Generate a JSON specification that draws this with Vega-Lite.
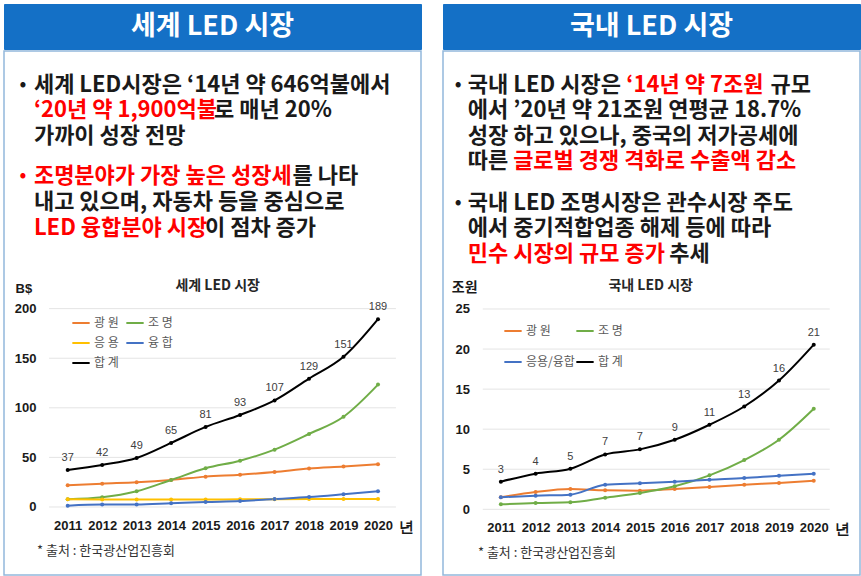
{
  "$schema": "https://vega.github.io/schema/vega-lite/v6.json",
  "padding": {"left": 3, "top": 3, "right": 0, "bottom": 0},
  "background": "white",
  "config": {"view": {"stroke": null}, "font": "Noto Sans CJK KR"},
  "resolve": {"scale": {"color": "independent"}, "legend": {"color": "independent"}},
  "datasets": {
    "world": [
      {"year": 2011, "s": "광 원", "v": 21.8}, {"year": 2012, "s": "광 원", "v": 23.5}, {"year": 2013, "s": "광 원", "v": 24.9}, {"year": 2014, "s": "광 원", "v": 27.2}, {"year": 2015, "s": "광 원", "v": 30.6},
      {"year": 2016, "s": "광 원", "v": 32.6}, {"year": 2017, "s": "광 원", "v": 35.3}, {"year": 2018, "s": "광 원", "v": 38.7}, {"year": 2019, "s": "광 원", "v": 40.7}, {"year": 2020, "s": "광 원", "v": 43.0},
      {"year": 2011, "s": "조 명", "v": 7.7}, {"year": 2012, "s": "조 명", "v": 9.7}, {"year": 2013, "s": "조 명", "v": 15.8}, {"year": 2014, "s": "조 명", "v": 27.2}, {"year": 2015, "s": "조 명", "v": 39.0},
      {"year": 2016, "s": "조 명", "v": 46.7}, {"year": 2017, "s": "조 명", "v": 57.8}, {"year": 2018, "s": "조 명", "v": 73.6}, {"year": 2019, "s": "조 명", "v": 91.0}, {"year": 2020, "s": "조 명", "v": 123.4},
      {"year": 2011, "s": "응 용", "v": 7.7}, {"year": 2012, "s": "응 용", "v": 7.6}, {"year": 2013, "s": "응 용", "v": 7.6}, {"year": 2014, "s": "응 용", "v": 7.6}, {"year": 2015, "s": "응 용", "v": 7.6},
      {"year": 2016, "s": "응 용", "v": 7.7}, {"year": 2017, "s": "응 용", "v": 7.8}, {"year": 2018, "s": "응 용", "v": 8.0}, {"year": 2019, "s": "응 용", "v": 8.0}, {"year": 2020, "s": "응 용", "v": 8.0},
      {"year": 2011, "s": "융 합", "v": 1.3}, {"year": 2012, "s": "융 합", "v": 2.4}, {"year": 2013, "s": "융 합", "v": 2.4}, {"year": 2014, "s": "융 합", "v": 3.7}, {"year": 2015, "s": "융 합", "v": 5.0},
      {"year": 2016, "s": "융 합", "v": 6.0}, {"year": 2017, "s": "융 합", "v": 8.0}, {"year": 2018, "s": "융 합", "v": 10.0}, {"year": 2019, "s": "융 합", "v": 12.8}, {"year": 2020, "s": "융 합", "v": 15.8},
      {"year": 2011, "s": "합 계", "v": 37.3}, {"year": 2012, "s": "합 계", "v": 42.4}, {"year": 2013, "s": "합 계", "v": 49.4}, {"year": 2014, "s": "합 계", "v": 64.6}, {"year": 2015, "s": "합 계", "v": 80.7},
      {"year": 2016, "s": "합 계", "v": 92.8}, {"year": 2017, "s": "합 계", "v": 107.4}, {"year": 2018, "s": "합 계", "v": 129.4}, {"year": 2019, "s": "합 계", "v": 151.4}, {"year": 2020, "s": "합 계", "v": 189.4}
    ],
    "domestic": [
      {"year": 2011, "s": "광 원", "v": 1.5}, {"year": 2012, "s": "광 원", "v": 2.16}, {"year": 2013, "s": "광 원", "v": 2.53}, {"year": 2014, "s": "광 원", "v": 2.37}, {"year": 2015, "s": "광 원", "v": 2.33},
      {"year": 2016, "s": "광 원", "v": 2.53}, {"year": 2017, "s": "광 원", "v": 2.78}, {"year": 2018, "s": "광 원", "v": 3.07}, {"year": 2019, "s": "광 원", "v": 3.28}, {"year": 2020, "s": "광 원", "v": 3.57},
      {"year": 2011, "s": "조 명", "v": 0.62}, {"year": 2012, "s": "조 명", "v": 0.79}, {"year": 2013, "s": "조 명", "v": 0.87}, {"year": 2014, "s": "조 명", "v": 1.45}, {"year": 2015, "s": "조 명", "v": 2.03},
      {"year": 2016, "s": "조 명", "v": 2.87}, {"year": 2017, "s": "조 명", "v": 4.24}, {"year": 2018, "s": "조 명", "v": 6.15}, {"year": 2019, "s": "조 명", "v": 8.68}, {"year": 2020, "s": "조 명", "v": 12.54},
      {"year": 2011, "s": "응용/융합", "v": 1.5}, {"year": 2012, "s": "응용/융합", "v": 1.7}, {"year": 2013, "s": "응용/융합", "v": 1.83}, {"year": 2014, "s": "응용/융합", "v": 3.07}, {"year": 2015, "s": "응용/융합", "v": 3.24},
      {"year": 2016, "s": "응용/융합", "v": 3.45}, {"year": 2017, "s": "응용/융합", "v": 3.7}, {"year": 2018, "s": "응용/융합", "v": 3.9}, {"year": 2019, "s": "응용/융합", "v": 4.2}, {"year": 2020, "s": "응용/융합", "v": 4.44},
      {"year": 2011, "s": "합 계", "v": 3.45}, {"year": 2012, "s": "합 계", "v": 4.45}, {"year": 2013, "s": "합 계", "v": 5.07}, {"year": 2014, "s": "합 계", "v": 6.85}, {"year": 2015, "s": "합 계", "v": 7.48},
      {"year": 2016, "s": "합 계", "v": 8.68}, {"year": 2017, "s": "합 계", "v": 10.55}, {"year": 2018, "s": "합 계", "v": 12.83}, {"year": 2019, "s": "합 계", "v": 16.07}, {"year": 2020, "s": "합 계", "v": 20.55}
    ],
    "wgrid": [{"g": 0}, {"g": 50}, {"g": 100}, {"g": 150}, {"g": 200}],
    "dgrid": [{"g": 0}, {"g": 5}, {"g": 10}, {"g": 15}, {"g": 20}, {"g": 25}],
    "wseg": [
      {"para": 1, "line": 1, "seg": 1, "bullet": true, "hl": false, "t": "세계 LED시장은 ‘14년 약 646억불에서"},
      {"para": 1, "line": 2, "seg": 1, "bullet": false, "hl": true, "t": "‘20년 약 1,900억불"},
      {"para": 1, "line": 2, "seg": 2, "bullet": false, "hl": false, "t": "로 매년 20%"},
      {"para": 1, "line": 3, "seg": 1, "bullet": false, "hl": false, "t": "가까이 성장 전망"},
      {"para": 2, "line": 5, "seg": 1, "bullet": true, "hl": true, "t": "조명분야가 가장 높은 성장세"},
      {"para": 2, "line": 5, "seg": 2, "bullet": false, "hl": false, "t": "를 나타"},
      {"para": 2, "line": 6, "seg": 1, "bullet": false, "hl": false, "t": "내고 있으며, 자동차 등을 중심으로"},
      {"para": 2, "line": 7, "seg": 1, "bullet": false, "hl": true, "t": "LED 융합분야 시장"},
      {"para": 2, "line": 7, "seg": 2, "bullet": false, "hl": false, "t": "이 점차 증가"}
    ],
    "dseg": [
      {"para": 1, "line": 1, "seg": 1, "bullet": true, "hl": false, "t": "국내 LED 시장은"},
      {"para": 1, "line": 1, "seg": 2, "bullet": false, "hl": true, "t": "‘14년 약 7조원"},
      {"para": 1, "line": 1, "seg": 3, "bullet": false, "hl": false, "t": "규모"},
      {"para": 1, "line": 2, "seg": 1, "bullet": false, "hl": false, "t": "에서 ’20년 약 21조원 연평균 18.7%"},
      {"para": 1, "line": 3, "seg": 1, "bullet": false, "hl": false, "t": "성장 하고 있으나, 중국의 저가공세에"},
      {"para": 1, "line": 4, "seg": 1, "bullet": false, "hl": false, "t": "따른"},
      {"para": 1, "line": 4, "seg": 2, "bullet": false, "hl": true, "t": "글로벌 경쟁 격화로 수출액 감소"},
      {"para": 2, "line": 6, "seg": 1, "bullet": true, "hl": false, "t": "국내 LED 조명시장은 관수시장 주도"},
      {"para": 2, "line": 7, "seg": 1, "bullet": false, "hl": false, "t": "에서 중기적합업종 해제 등에 따라"},
      {"para": 2, "line": 8, "seg": 1, "bullet": false, "hl": true, "t": "민수 시장의 규모 증가"},
      {"para": 2, "line": 8, "seg": 2, "bullet": false, "hl": false, "t": "추세"}
    ]
  },
  "hconcat": [
    {
      "spacing": 0,
      "vconcat": [
        {
          "width": 417, "height": 45,
          "view": {"fill": "#1470c6", "stroke": "#1470c6"},
          "data": {"values": [{"t": "세계 LED 시장"}]},
          "mark": {"type": "text", "color": "white", "fontSize": 27, "fontWeight": "bold", "font": "Noto Sans CJK KR"},
          "encoding": {"text": {"field": "t"}}
        },
        {
          "width": 417, "height": 524,
          "view": {"stroke": "#93b8dc", "strokeWidth": 1.5, "fill": "white"},
          "resolve": {"scale": {"x": "independent", "y": "independent"}, "axis": {"x": "independent", "y": "independent"}},
          "layer": [
            {
              "data": {"name": "wgrid"},
              "mark": {"type": "rule", "color": "#e4e4e4", "strokeWidth": 1},
              "encoding": {
                "y": {"field": "g", "type": "quantitative", "scale": {"domain": [-68.6, 459.8], "nice": false, "zero": false}, "axis": null},
                "x": {"datum": 2010.46, "type": "quantitative", "scale": {"domain": [2009.153, 2021.247], "nice": false, "zero": false}, "axis": null},
                "x2": {"datum": 2020.52}
              }
            },
            {
              "data": {"name": "world"},
              "mark": {"type": "line", "strokeWidth": 2, "interpolate": "monotone"},
              "encoding": {
                "x": {"field": "year", "type": "quantitative", "scale": {"domain": [2009.153, 2021.247], "nice": false, "zero": false},
                  "axis": {"values": [2011, 2012, 2013, 2014, 2015, 2016, 2017, 2018, 2019, 2020, 2020.8], "format": "d",
                    "labelExpr": "datum.value > 2020.5 ? '년' : datum.label", "title": null, "grid": false, "domain": false, "ticks": false, "tickSize": 0,
                    "labelOverlap": false, "labelFlush": false, "offset": -59, "labelPadding": 3, "labelFont": "Liberation Sans", "labelFontWeight": "bold",
                    "labelFontSize": {"condition": {"test": "datum.value > 2020.5", "value": 15}, "value": 13}, "labelColor": "#1a1a1a"}},
                "y": {"field": "v", "type": "quantitative", "scale": {"domain": [-68.6, 459.8], "nice": false, "zero": false},
                  "axis": {"values": [0, 50, 100, 150, 200], "title": null, "grid": false, "domain": false, "ticks": false, "tickSize": 0,
                    "labelOverlap": false, "labelFlush": false, "offset": -37, "labelPadding": 5, "labelFont": "Liberation Sans", "labelFontWeight": "bold",
                    "labelFontSize": 13, "labelColor": "#1a1a1a"}},
                "color": {"field": "s", "type": "nominal",
                  "scale": {"domain": ["광 원", "조 명", "응 용", "융 합", "합 계"], "range": ["#ed7d31", "#70ad47", "#ffc000", "#4472c4", "#000000"]},
                  "legend": {"orient": "none", "legendX": 67, "legendY": 309, "columns": 2, "direction": "horizontal", "title": null, "symbolType": "stroke", "symbolSize": 300,
                    "symbolStrokeWidth": 2, "labelFontSize": 12, "labelColor": "#595959", "labelFont": "Noto Sans CJK KR", "rowPadding": 4,
                    "columnPadding": 3, "labelOffset": 3, "padding": 0}}
              }
            },
            {
              "data": {"name": "world"},
              "mark": {"type": "point", "filled": true, "size": 16, "opacity": 1},
              "encoding": {
                "x": {"field": "year", "type": "quantitative", "scale": {"domain": [2009.153, 2021.247], "nice": false, "zero": false}, "axis": null},
                "y": {"field": "v", "type": "quantitative", "scale": {"domain": [-68.6, 459.8], "nice": false, "zero": false}, "axis": null},
                "color": {"field": "s", "type": "nominal", "legend": null}
              }
            },
            {
              "data": {"name": "world"},
              "transform": [{"filter": "datum.s == '합 계'"}],
              "mark": {"type": "text", "dy": -12, "fontSize": 11, "color": "#404040", "font": "Liberation Sans"},
              "encoding": {
                "x": {"field": "year", "type": "quantitative", "scale": {"domain": [2009.153, 2021.247], "nice": false, "zero": false}, "axis": null},
                "y": {"field": "v", "type": "quantitative", "scale": {"domain": [-68.6, 459.8], "nice": false, "zero": false}, "axis": null},
                "text": {"field": "v", "type": "quantitative", "format": ".0f"}
              }
            },
            {
              "data": {"values": [{"t": "세계 LED 시장"}]},
              "mark": {"type": "text", "fontSize": 14, "fontWeight": "bold", "color": "#262626", "font": "Noto Sans CJK KR"},
              "encoding": {
                "x": {"datum": 2015.35, "type": "quantitative", "scale": {"domain": [2009.153, 2021.247], "nice": false, "zero": false}, "axis": null},
                "y": {"datum": 222.5, "type": "quantitative", "scale": {"domain": [-68.6, 459.8], "nice": false, "zero": false}, "axis": null},
                "text": {"field": "t"}
              }
            },
            {
              "data": {"values": [{"t": "B$"}]},
              "mark": {"type": "text", "fontSize": 13, "fontWeight": "bold", "color": "#1a1a1a", "font": "Liberation Sans"},
              "encoding": {
                "x": {"datum": 2009.73, "type": "quantitative", "scale": {"domain": [2009.153, 2021.247], "nice": false, "zero": false}, "axis": null},
                "y": {"datum": 219.8, "type": "quantitative", "scale": {"domain": [-68.6, 459.8], "nice": false, "zero": false}, "axis": null},
                "text": {"field": "t"}
              }
            },
            {
              "data": {"values": [{"t": "* 출처 : 한국광산업진흥회"}]},
              "mark": {"type": "text", "fontSize": 13, "align": "left", "color": "#333333", "font": "Noto Sans CJK KR"},
              "encoding": {
                "x": {"datum": 2010.11, "type": "quantitative", "scale": {"domain": [2009.153, 2021.247], "nice": false, "zero": false}, "axis": null},
                "y": {"datum": -44.7, "type": "quantitative", "scale": {"domain": [-68.6, 459.8], "nice": false, "zero": false}, "axis": null},
                "text": {"field": "t"}
              }
            },
            {
              "data": {"name": "wseg"},
              "transform": [{"filter": "datum.seg == 1 && datum.para == 1"}],
              "mark": {"type": "text", "fontSize": 22, "fontWeight": "bold", "align": "left", "font": "Noto Sans CJK KR"},
              "encoding": {
                "x": {"datum": 2010.02, "type": "quantitative", "scale": {"domain": [2009.153, 2021.247], "nice": false, "zero": false}, "axis": null},
                "y": {"field": "line", "type": "quantitative", "scale": {"domain": [-0.306, 20.004], "reverse": true, "nice": false, "zero": false}, "axis": null},
                "text": {"field": "t"},
                "color": {"condition": {"test": "datum.hl", "value": "#ff0000"}, "value": "#1a1a1a"}
              }
            },
            {
              "data": {"name": "wseg"},
              "transform": [{"filter": "datum.seg == 1 && datum.para == 2"}],
              "mark": {"type": "text", "fontSize": 22, "fontWeight": "bold", "align": "left", "font": "Noto Sans CJK KR"},
              "encoding": {
                "x": {"datum": 2010.02, "type": "quantitative", "scale": {"domain": [2009.153, 2021.247], "nice": false, "zero": false}, "axis": null},
                "y": {"field": "line", "type": "quantitative", "scale": {"domain": [0.153, 20.424], "reverse": true, "nice": false, "zero": false}, "axis": null},
                "text": {"field": "t"},
                "color": {"condition": {"test": "datum.hl", "value": "#ff0000"}, "value": "#1a1a1a"}
              }
            },
            {
              "data": {"name": "wseg"},
              "transform": [{"filter": "datum.line == 2 && datum.seg == 2"}],
              "mark": {"type": "text", "fontSize": 22, "fontWeight": "bold", "align": "left", "font": "Noto Sans CJK KR"},
              "encoding": {
                "x": {"datum": 2015.245, "type": "quantitative", "scale": {"domain": [2009.153, 2021.247], "nice": false, "zero": false}, "axis": null},
                "y": {"field": "line", "type": "quantitative", "scale": {"domain": [-0.306, 20.004], "reverse": true, "nice": false, "zero": false}, "axis": null},
                "text": {"field": "t"},
                "color": {"condition": {"test": "datum.hl", "value": "#ff0000"}, "value": "#1a1a1a"}
              }
            },
            {
              "data": {"name": "wseg"},
              "transform": [{"filter": "datum.line == 5 && datum.seg == 2"}],
              "mark": {"type": "text", "fontSize": 22, "fontWeight": "bold", "align": "left", "font": "Noto Sans CJK KR"},
              "encoding": {
                "x": {"datum": 2017.52, "type": "quantitative", "scale": {"domain": [2009.153, 2021.247], "nice": false, "zero": false}, "axis": null},
                "y": {"field": "line", "type": "quantitative", "scale": {"domain": [0.153, 20.424], "reverse": true, "nice": false, "zero": false}, "axis": null},
                "text": {"field": "t"},
                "color": {"condition": {"test": "datum.hl", "value": "#ff0000"}, "value": "#1a1a1a"}
              }
            },
            {
              "data": {"name": "wseg"},
              "transform": [{"filter": "datum.line == 7 && datum.seg == 2"}],
              "mark": {"type": "text", "fontSize": 22, "fontWeight": "bold", "align": "left", "font": "Noto Sans CJK KR"},
              "encoding": {
                "x": {"datum": 2014.98, "type": "quantitative", "scale": {"domain": [2009.153, 2021.247], "nice": false, "zero": false}, "axis": null},
                "y": {"field": "line", "type": "quantitative", "scale": {"domain": [0.153, 20.424], "reverse": true, "nice": false, "zero": false}, "axis": null},
                "text": {"field": "t"},
                "color": {"condition": {"test": "datum.hl", "value": "#ff0000"}, "value": "#1a1a1a"}
              }
            },
            {
              "data": {"name": "wseg"},
              "transform": [{"filter": "datum.bullet && datum.para == 1"}],
              "mark": {"type": "text", "fontSize": 18, "fontWeight": "bold", "text": "•", "font": "Noto Sans CJK KR"},
              "encoding": {
                "x": {"datum": 2009.70, "type": "quantitative", "scale": {"domain": [2009.153, 2021.247], "nice": false, "zero": false}, "axis": null},
                "y": {"field": "line", "type": "quantitative", "scale": {"domain": [-0.306, 20.004], "reverse": true, "nice": false, "zero": false}, "axis": null},
                "color": {"condition": {"test": "datum.hl", "value": "#ff0000"}, "value": "#1a1a1a"}
              }
            },
            {
              "data": {"name": "wseg"},
              "transform": [{"filter": "datum.bullet && datum.para == 2"}],
              "mark": {"type": "text", "fontSize": 18, "fontWeight": "bold", "text": "•", "font": "Noto Sans CJK KR"},
              "encoding": {
                "x": {"datum": 2009.70, "type": "quantitative", "scale": {"domain": [2009.153, 2021.247], "nice": false, "zero": false}, "axis": null},
                "y": {"field": "line", "type": "quantitative", "scale": {"domain": [0.153, 20.424], "reverse": true, "nice": false, "zero": false}, "axis": null},
                "color": {"condition": {"test": "datum.hl", "value": "#ff0000"}, "value": "#1a1a1a"}
              }
            }
          ]
        }
      ]
    },
    {
      "spacing": 0,
      "vconcat": [
        {
          "width": 417, "height": 45,
          "view": {"fill": "#1470c6", "stroke": "#1470c6"},
          "data": {"values": [{"t": "국내 LED 시장"}]},
          "mark": {"type": "text", "color": "white", "fontSize": 27, "fontWeight": "bold", "font": "Noto Sans CJK KR"},
          "encoding": {"text": {"field": "t"}}
        },
        {
          "width": 417, "height": 524,
          "view": {"stroke": "#93b8dc", "strokeWidth": 1.5, "fill": "white"},
          "resolve": {"scale": {"x": "independent", "y": "independent"}, "axis": {"x": "independent", "y": "independent"}},
          "layer": [
            {
              "data": {"name": "dgrid"},
              "mark": {"type": "rule", "color": "#e4e4e4", "strokeWidth": 1},
              "encoding": {
                "y": {"field": "g", "type": "quantitative", "scale": {"domain": [-8.2, 57.2], "nice": false, "zero": false}, "axis": null},
                "x": {"datum": 2010.48, "type": "quantitative", "scale": {"domain": [2009.336, 2021.33], "nice": false, "zero": false}, "axis": null},
                "x2": {"datum": 2020.46}
              }
            },
            {
              "data": {"name": "domestic"},
              "mark": {"type": "line", "strokeWidth": 2, "interpolate": "monotone"},
              "encoding": {
                "x": {"field": "year", "type": "quantitative", "scale": {"domain": [2009.336, 2021.33], "nice": false, "zero": false},
                  "axis": {"values": [2011, 2012, 2013, 2014, 2015, 2016, 2017, 2018, 2019, 2020, 2020.8], "format": "d",
                    "labelExpr": "datum.value > 2020.5 ? '년' : datum.label", "title": null, "grid": false, "domain": false, "ticks": false, "tickSize": 0,
                    "labelOverlap": false, "labelFlush": false, "offset": -56.5, "labelPadding": 3, "labelFont": "Liberation Sans", "labelFontWeight": "bold",
                    "labelFontSize": {"condition": {"test": "datum.value > 2020.5", "value": 15}, "value": 13}, "labelColor": "#1a1a1a"}},
                "y": {"field": "v", "type": "quantitative", "scale": {"domain": [-8.2, 57.2], "nice": false, "zero": false},
                  "axis": {"values": [0, 5, 10, 15, 20, 25], "title": null, "grid": false, "domain": false, "ticks": false, "tickSize": 0,
                    "labelOverlap": false, "labelFlush": false, "offset": -31.5, "labelPadding": 5, "labelFont": "Liberation Sans", "labelFontWeight": "bold",
                    "labelFontSize": 13, "labelColor": "#1a1a1a"}},
                "color": {"field": "s", "type": "nominal",
                  "scale": {"domain": ["광 원", "조 명", "응용/융합", "합 계"], "range": ["#ed7d31", "#70ad47", "#4472c4", "#000000"]},
                  "legend": {"orient": "none", "legendX": 60, "legendY": 317, "columns": 2, "direction": "horizontal", "title": null, "symbolType": "stroke", "symbolSize": 300,
                    "symbolStrokeWidth": 2, "labelFontSize": 12, "labelColor": "#595959", "labelFont": "Noto Sans CJK KR", "rowPadding": 15,
                    "columnPadding": -10, "labelOffset": 3, "padding": 0}}
              }
            },
            {
              "data": {"name": "domestic"},
              "mark": {"type": "point", "filled": true, "size": 16, "opacity": 1},
              "encoding": {
                "x": {"field": "year", "type": "quantitative", "scale": {"domain": [2009.336, 2021.33], "nice": false, "zero": false}, "axis": null},
                "y": {"field": "v", "type": "quantitative", "scale": {"domain": [-8.2, 57.2], "nice": false, "zero": false}, "axis": null},
                "color": {"field": "s", "type": "nominal", "legend": null}
              }
            },
            {
              "data": {"name": "domestic"},
              "transform": [{"filter": "datum.s == '합 계'"}],
              "mark": {"type": "text", "dy": -12, "fontSize": 11, "color": "#404040", "font": "Liberation Sans"},
              "encoding": {
                "x": {"field": "year", "type": "quantitative", "scale": {"domain": [2009.336, 2021.33], "nice": false, "zero": false}, "axis": null},
                "y": {"field": "v", "type": "quantitative", "scale": {"domain": [-8.2, 57.2], "nice": false, "zero": false}, "axis": null},
                "text": {"field": "v", "type": "quantitative", "format": ".0f"}
              }
            },
            {
              "data": {"values": [{"t": "국내 LED 시장"}]},
              "mark": {"type": "text", "fontSize": 14, "fontWeight": "bold", "color": "#262626", "font": "Noto Sans CJK KR"},
              "encoding": {
                "x": {"datum": 2015.31, "type": "quantitative", "scale": {"domain": [2009.336, 2021.33], "nice": false, "zero": false}, "axis": null},
                "y": {"datum": 27.83, "type": "quantitative", "scale": {"domain": [-8.2, 57.2], "nice": false, "zero": false}, "axis": null},
                "text": {"field": "t"}
              }
            },
            {
              "data": {"values": [{"t": "조원"}]},
              "mark": {"type": "text", "fontSize": 14, "fontWeight": "bold", "color": "#1a1a1a", "font": "Noto Sans CJK KR"},
              "encoding": {
                "x": {"datum": 2009.96, "type": "quantitative", "scale": {"domain": [2009.336, 2021.33], "nice": false, "zero": false}, "axis": null},
                "y": {"datum": 27.6, "type": "quantitative", "scale": {"domain": [-8.2, 57.2], "nice": false, "zero": false}, "axis": null},
                "text": {"field": "t"}
              }
            },
            {
              "data": {"values": [{"t": "* 출처 : 한국광산업진흥회"}]},
              "mark": {"type": "text", "fontSize": 13, "align": "left", "color": "#333333", "font": "Noto Sans CJK KR"},
              "encoding": {
                "x": {"datum": 2010.34, "type": "quantitative", "scale": {"domain": [2009.336, 2021.33], "nice": false, "zero": false}, "axis": null},
                "y": {"datum": -5.45, "type": "quantitative", "scale": {"domain": [-8.2, 57.2], "nice": false, "zero": false}, "axis": null},
                "text": {"field": "t"}
              }
            },
            {
              "data": {"name": "dseg"},
              "transform": [{"filter": "datum.seg == 1 && datum.para == 1"}],
              "mark": {"type": "text", "fontSize": 22, "fontWeight": "bold", "align": "left", "font": "Noto Sans CJK KR"},
              "encoding": {
                "x": {"datum": 2010.05, "type": "quantitative", "scale": {"domain": [2009.336, 2021.33], "nice": false, "zero": false}, "axis": null},
                "y": {"field": "line", "type": "quantitative", "scale": {"domain": [-0.344, 20.368], "reverse": true, "nice": false, "zero": false}, "axis": null},
                "text": {"field": "t"},
                "color": {"condition": {"test": "datum.hl", "value": "#ff0000"}, "value": "#1a1a1a"}
              }
            },
            {
              "data": {"name": "dseg"},
              "transform": [{"filter": "datum.seg == 1 && datum.para == 2"}],
              "mark": {"type": "text", "fontSize": 22, "fontWeight": "bold", "align": "left", "font": "Noto Sans CJK KR"},
              "encoding": {
                "x": {"datum": 2010.05, "type": "quantitative", "scale": {"domain": [2009.336, 2021.33], "nice": false, "zero": false}, "axis": null},
                "y": {"field": "line", "type": "quantitative", "scale": {"domain": [-0.008, 20.704], "reverse": true, "nice": false, "zero": false}, "axis": null},
                "text": {"field": "t"},
                "color": {"condition": {"test": "datum.hl", "value": "#ff0000"}, "value": "#1a1a1a"}
              }
            },
            {
              "data": {"name": "dseg"},
              "transform": [{"filter": "datum.line == 1 && datum.seg == 2"}],
              "mark": {"type": "text", "fontSize": 22, "fontWeight": "bold", "align": "left", "font": "Noto Sans CJK KR"},
              "encoding": {
                "x": {"datum": 2014.61, "type": "quantitative", "scale": {"domain": [2009.336, 2021.33], "nice": false, "zero": false}, "axis": null},
                "y": {"field": "line", "type": "quantitative", "scale": {"domain": [-0.344, 20.368], "reverse": true, "nice": false, "zero": false}, "axis": null},
                "text": {"field": "t"},
                "color": {"condition": {"test": "datum.hl", "value": "#ff0000"}, "value": "#1a1a1a"}
              }
            },
            {
              "data": {"name": "dseg"},
              "transform": [{"filter": "datum.line == 1 && datum.seg == 3"}],
              "mark": {"type": "text", "fontSize": 22, "fontWeight": "bold", "align": "left", "font": "Noto Sans CJK KR"},
              "encoding": {
                "x": {"datum": 2018.759, "type": "quantitative", "scale": {"domain": [2009.336, 2021.33], "nice": false, "zero": false}, "axis": null},
                "y": {"field": "line", "type": "quantitative", "scale": {"domain": [-0.344, 20.368], "reverse": true, "nice": false, "zero": false}, "axis": null},
                "text": {"field": "t"},
                "color": {"condition": {"test": "datum.hl", "value": "#ff0000"}, "value": "#1a1a1a"}
              }
            },
            {
              "data": {"name": "dseg"},
              "transform": [{"filter": "datum.line == 4 && datum.seg == 2"}],
              "mark": {"type": "text", "fontSize": 22, "fontWeight": "bold", "align": "left", "font": "Noto Sans CJK KR"},
              "encoding": {
                "x": {"datum": 2011.353, "type": "quantitative", "scale": {"domain": [2009.336, 2021.33], "nice": false, "zero": false}, "axis": null},
                "y": {"field": "line", "type": "quantitative", "scale": {"domain": [-0.344, 20.368], "reverse": true, "nice": false, "zero": false}, "axis": null},
                "text": {"field": "t"},
                "color": {"condition": {"test": "datum.hl", "value": "#ff0000"}, "value": "#1a1a1a"}
              }
            },
            {
              "data": {"name": "dseg"},
              "transform": [{"filter": "datum.line == 8 && datum.seg == 2"}],
              "mark": {"type": "text", "fontSize": 22, "fontWeight": "bold", "align": "left", "font": "Noto Sans CJK KR"},
              "encoding": {
                "x": {"datum": 2015.843, "type": "quantitative", "scale": {"domain": [2009.336, 2021.33], "nice": false, "zero": false}, "axis": null},
                "y": {"field": "line", "type": "quantitative", "scale": {"domain": [-0.008, 20.704], "reverse": true, "nice": false, "zero": false}, "axis": null},
                "text": {"field": "t"},
                "color": {"condition": {"test": "datum.hl", "value": "#ff0000"}, "value": "#1a1a1a"}
              }
            },
            {
              "data": {"name": "dseg"},
              "transform": [{"filter": "datum.bullet && datum.para == 1"}],
              "mark": {"type": "text", "fontSize": 18, "fontWeight": "bold", "text": "•", "font": "Noto Sans CJK KR"},
              "encoding": {
                "x": {"datum": 2009.77, "type": "quantitative", "scale": {"domain": [2009.336, 2021.33], "nice": false, "zero": false}, "axis": null},
                "y": {"field": "line", "type": "quantitative", "scale": {"domain": [-0.344, 20.368], "reverse": true, "nice": false, "zero": false}, "axis": null},
                "color": {"condition": {"test": "datum.hl", "value": "#ff0000"}, "value": "#1a1a1a"}
              }
            },
            {
              "data": {"name": "dseg"},
              "transform": [{"filter": "datum.bullet && datum.para == 2"}],
              "mark": {"type": "text", "fontSize": 18, "fontWeight": "bold", "text": "•", "font": "Noto Sans CJK KR"},
              "encoding": {
                "x": {"datum": 2009.77, "type": "quantitative", "scale": {"domain": [2009.336, 2021.33], "nice": false, "zero": false}, "axis": null},
                "y": {"field": "line", "type": "quantitative", "scale": {"domain": [-0.008, 20.704], "reverse": true, "nice": false, "zero": false}, "axis": null},
                "color": {"condition": {"test": "datum.hl", "value": "#ff0000"}, "value": "#1a1a1a"}
              }
            }
          ]
        }
      ]
    }
  ],
  "spacing": 20
}
